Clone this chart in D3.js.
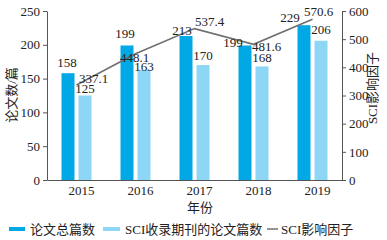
<!DOCTYPE html>
<html>
<head>
<meta charset="utf-8">
<script src="https://cdn.jsdelivr.net/npm/d3@7"></script>
<style>
body { margin: 0; background: #fff; }
text { font-family: "Liberation Serif", "Noto Sans CJK SC", serif; fill: #222; }
</style>
</head>
<body>
<script>
const years = ['2015', '2016', '2017', '2018', '2019']
const totalPapers = [158, 199, 213, 199, 229]
const sciPapers = [125, 163, 170, 168, 206]
const impactFactor = [337.1, 448.1, 537.4, 481.6, 570.6]
const leftTicks = [0, 50, 100, 150, 200, 250]
const rightTicks = [0, 100, 200, 300, 400, 500, 600]

// label nudges (px)
const totalDx = [-1, -2, -4, -12, -14]
const totalDy = [-6, -7, -1, 2, -3]
const sciDy = [-3, 1, -5, -4, -7]
const ifDx = [17, -1, 15, 13, 6]
const ifDy = [-2, 8, -3, 7, -3]

const width = 387, height = 240
const svg = d3.select('body').append('svg')
  .attr('width', width)
  .attr('height', height)

const x = d3.scaleBand().domain(years).range([47, 342])
const yL = d3.scaleLinear().domain([0, 250]).range([180, 11])
const yR = d3.scaleLinear().domain([0, 600]).range([180, 11])

const dark = '#00a9e6', light = '#8dd6f5', grey = '#707070'
const bw = 13
const cx = d => x(d) + x.bandwidth() / 2

// bars
svg.append('g').selectAll('rect')
  .data(years)
  .enter().append('rect')
    .attr('x', d => cx(d) - 15)
    .attr('y', (d, i) => yL(totalPapers[i]))
    .attr('width', bw)
    .attr('height', (d, i) => yL(0) - yL(totalPapers[i]))
    .attr('fill', dark)

svg.append('g').selectAll('rect')
  .data(years)
  .enter().append('rect')
    .attr('x', d => cx(d) + 2)
    .attr('y', (d, i) => yL(sciPapers[i]))
    .attr('width', bw)
    .attr('height', (d, i) => yL(0) - yL(sciPapers[i]))
    .attr('fill', light)

// line
const line = d3.line()
  .x((d, i) => cx(years[i]))
  .y(d => yR(d))
svg.append('path')
  .datum(impactFactor)
  .attr('d', line)
  .attr('fill', 'none')
  .attr('stroke', grey)
  .attr('stroke-width', 1.6)

// axes
const axisStyle = g => {
  g.selectAll('path, line').attr('stroke', '#555')
  g.selectAll('text').attr('font-size', 13).attr('fill', '#222')
    .style('font-family', '"Liberation Serif", serif')
}
svg.append('g')
  .attr('transform', 'translate(47,0)')
  .call(d3.axisLeft(yL).tickValues(leftTicks).tickSize(4).tickSizeOuter(0).tickPadding(3))
  .call(axisStyle)
svg.append('g')
  .attr('transform', 'translate(342,0)')
  .call(d3.axisRight(yR).tickValues(rightTicks).tickSize(4).tickSizeOuter(0).tickPadding(3))
  .call(axisStyle)
svg.append('g')
  .attr('transform', 'translate(0,180)')
  .call(d3.axisBottom(x).tickSize(0).tickPadding(6))
  .call(axisStyle)
  .call(g => g.selectAll('text').attr('dx', 5))

// value labels
const lab = svg.append('g').attr('font-size', 13).attr('text-anchor', 'middle')
lab.selectAll('.t').data(years).enter().append('text')
  .attr('x', (d, i) => cx(d) - 8.5 + totalDx[i])
  .attr('y', (d, i) => yL(totalPapers[i]) + totalDy[i])
  .text((d, i) => totalPapers[i])
lab.selectAll('.s').data(years).enter().append('text')
  .attr('x', d => cx(d) + 8.5)
  .attr('y', (d, i) => yL(sciPapers[i]) + sciDy[i])
  .text((d, i) => sciPapers[i])
lab.selectAll('.f').data(years).enter().append('text')
  .attr('x', (d, i) => cx(d) + ifDx[i])
  .attr('y', (d, i) => yR(impactFactor[i]) + ifDy[i])
  .text((d, i) => impactFactor[i].toFixed(1))

// axis titles
svg.append('text')
  .attr('transform', 'translate(16,95) rotate(-90)')
  .attr('text-anchor', 'middle')
  .attr('font-size', 13)
  .text('论文数/篇')
svg.append('text')
  .attr('transform', 'translate(377,88) rotate(-90)')
  .attr('text-anchor', 'middle')
  .attr('font-size', 13)
  .text('SCI影响因子')
svg.append('text')
  .attr('x', 200).attr('y', 212)
  .attr('text-anchor', 'middle')
  .attr('font-size', 13)
  .text('年份')

// legend
const legend = svg.append('g').attr('font-size', 13)
legend.append('rect').attr('x', 9).attr('y', 227).attr('width', 16).attr('height', 4).attr('fill', dark)
legend.append('text').attr('x', 30).attr('y', 234).text('论文总篇数')
legend.append('rect').attr('x', 103).attr('y', 227).attr('width', 17).attr('height', 4).attr('fill', light)
legend.append('text').attr('x', 125).attr('y', 234).text('SCI收录期刊的论文篇数')
legend.append('line').attr('x1', 267).attr('x2', 278).attr('y1', 229).attr('y2', 229)
  .attr('stroke', grey).attr('stroke-width', 1.5)
legend.append('text').attr('x', 281).attr('y', 234).text('SCI影响因子')
</script>
</body>
</html>
